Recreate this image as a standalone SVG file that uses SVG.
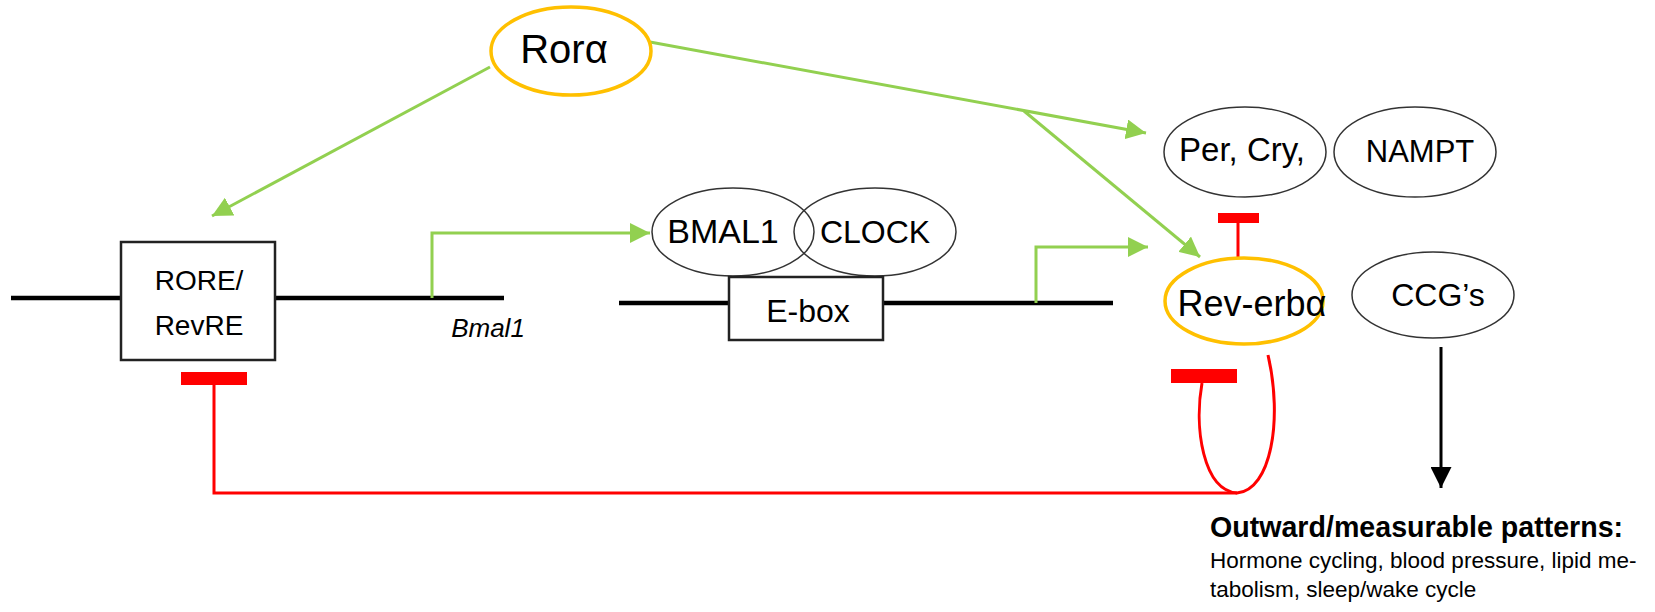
<svg xmlns="http://www.w3.org/2000/svg" width="1655" height="612" viewBox="0 0 1655 612">
  <defs>
    <marker id="ah-green" viewBox="0 0 10 10" refX="10" refY="5" markerWidth="20" markerHeight="20" markerUnits="userSpaceOnUse" orient="auto">
      <path d="M0,0 L10,5 L0,10 z" fill="#92D050"/>
    </marker>
    <marker id="ah-black" viewBox="0 0 10 10" refX="10" refY="5" markerWidth="21" markerHeight="21" markerUnits="userSpaceOnUse" orient="auto">
      <path d="M0,0 L10,5 L0,10 z" fill="#000"/>
    </marker>
  </defs>
  <style>
    text { font-family: "Liberation Sans", Arial, sans-serif; fill: #000; }
    .node { fill: #fff; stroke: #333; stroke-width: 1.5; }
    .orange { fill: #fff; stroke: #FFC000; stroke-width: 3.5; }
    .box { fill: #fff; stroke: #222; stroke-width: 2.5; }
    .dna { stroke: #000; stroke-width: 4.5; fill: none; }
    .act { stroke: #92D050; stroke-width: 3; fill: none; }
    .inh { stroke: #FF0000; stroke-width: 3; fill: none; }
    .bar { fill: #FF0000; }
  </style>
  <rect width="1655" height="612" fill="#fff"/>

  <g id="dna">
    <line class="dna" x1="11" y1="298" x2="504" y2="298"/>
    <line class="dna" x1="619" y1="303" x2="1113" y2="303"/>
  </g>

  <g id="connectors">
    <line class="act" x1="490" y1="67" x2="212" y2="216" marker-end="url(#ah-green)"/>
    <line class="act" x1="650" y1="42" x2="1146" y2="133" marker-end="url(#ah-green)"/>
    <line class="act" x1="1024" y1="111" x2="1200" y2="257" marker-end="url(#ah-green)"/>
    <polyline class="act" points="432,298 432,233 650,233" marker-end="url(#ah-green)"/>
    <polyline class="act" points="1036,303 1036,247 1148,247" marker-end="url(#ah-green)"/>
    <line class="inh" x1="1238" y1="222" x2="1238" y2="259"/>
    <rect class="bar" x="1218" y="213" width="41" height="10"/>
    <polyline class="inh" points="214,384 214,493 1237,493"/>
    <rect class="bar" x="181" y="372" width="66" height="13"/>
    <path class="inh" d="M1202,383 C1194,428 1203,490 1237,493 C1271,490 1283,420 1268,355"/>
    <rect class="bar" x="1171" y="369" width="66" height="14"/>
    <line x1="1441" y1="347" x2="1441" y2="488" stroke="#000" stroke-width="3" marker-end="url(#ah-black)"/>
  </g>

  <g id="node-rora">
    <ellipse class="orange" cx="571" cy="51" rx="80" ry="44"/>
    <text x="564" y="63" font-size="40" text-anchor="middle">Rorα</text>
  </g>

  <g id="node-rore">
    <rect class="box" x="121" y="242" width="154" height="118"/>
    <text x="199" y="290" font-size="28" text-anchor="middle">RORE/</text>
    <text x="199" y="335" font-size="28" text-anchor="middle">RevRE</text>
  </g>

  <g id="node-bmal1-gene">
    <text x="488" y="337" font-size="26" font-style="italic" text-anchor="middle">Bmal1</text>
  </g>

  <g id="node-bmal1">
    <ellipse class="node" cx="733" cy="232" rx="81" ry="44"/>
    <text x="723" y="243" font-size="34" text-anchor="middle">BMAL1</text>
  </g>

  <g id="node-clock">
    <ellipse class="node" cx="875" cy="232" rx="81" ry="44" style="fill:none"/>
    <text x="875" y="243" font-size="32" text-anchor="middle">CLOCK</text>
  </g>

  <g id="node-ebox">
    <rect class="box" x="729" y="277" width="154" height="63"/>
    <text x="808" y="322" font-size="32" text-anchor="middle">E-box</text>
  </g>

  <g id="node-per">
    <ellipse class="node" cx="1245" cy="152" rx="81" ry="45"/>
    <text x="1242" y="161" font-size="33" text-anchor="middle">Per, Cry,</text>
  </g>

  <g id="node-nampt">
    <ellipse class="node" cx="1415" cy="152" rx="81" ry="45"/>
    <text x="1420" y="162" font-size="31" text-anchor="middle">NAMPT</text>
  </g>

  <g id="node-reverb">
    <ellipse class="orange" cx="1244" cy="301" rx="79" ry="43"/>
    <text x="1252" y="316" font-size="36" text-anchor="middle">Rev-erbα</text>
  </g>

  <g id="node-ccg">
    <ellipse class="node" cx="1433" cy="295" rx="81" ry="43"/>
    <text x="1438" y="306" font-size="32" text-anchor="middle">CCG’s</text>
  </g>

  <g id="node-outputs">
    <text x="1210" y="537" font-size="28.6" font-weight="bold">Outward/measurable patterns:</text>
    <text x="1210" y="568" font-size="22.5">Hormone cycling, blood pressure, lipid me-</text>
    <text x="1210" y="597" font-size="22.5">tabolism, sleep/wake cycle</text>
  </g>
</svg>
